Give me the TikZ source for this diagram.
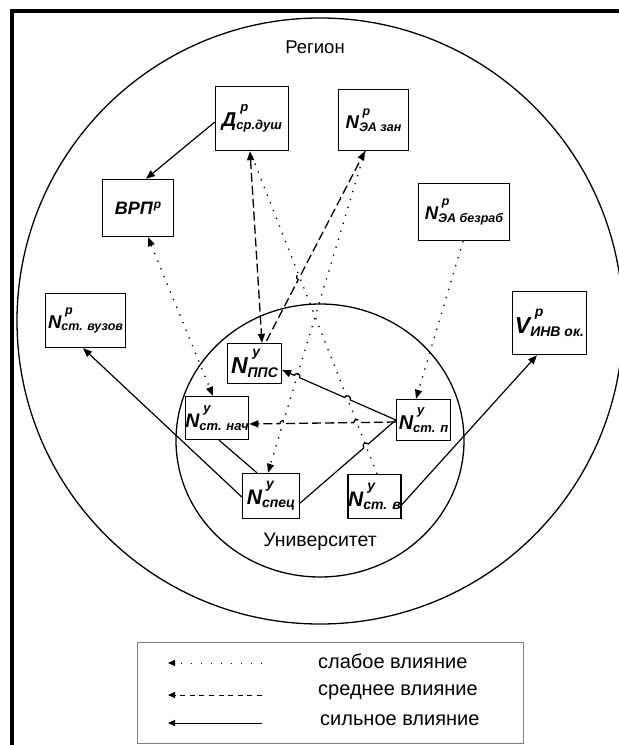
\documentclass[tikz,border=0pt]{standalone}
\usepackage{fontspec}
\setmainfont{Liberation Sans}
\usetikzlibrary{arrows.meta,calc}
\newlength\lblem
\newcommand{\lbl}[5]{%
  \fontsize{#1}{#1}\selectfont\setlength\lblem{1em}%
  #2%
  \fontsize{#5}{#5}\selectfont
  \rlap{\kern0.2\lblem\raisebox{0.74\lblem}{#3}}%
  \raisebox{-0.15\lblem}{#4}}
\begin{document}
\begin{tikzpicture}[x=1pt,y=-1pt,
  box/.style={draw,line width=1.3pt,inner sep=0pt,font=\bfseries\itshape},
  arw/.style={-{Triangle[length=9pt,width=7pt]}},
  arws/.style={{Triangle[length=9pt,width=7pt]}-{Triangle[length=9pt,width=7pt]}},
  strongline/.style={line width=1.2pt},
  medline/.style={line width=1.3pt,dash pattern=on 9pt off 4pt},
  weakline/.style={line width=1.3pt,dash pattern=on 1.3pt off 7pt},
  hop/.style={bend right=90,looseness=1.7},
  hopl/.style={bend left=90,looseness=1.7},
  legtip/.style={-{Triangle[length=7pt,width=6pt]}},
  legtxt/.style={anchor=west,inner sep=0pt,font=\fontsize{20}{20}\selectfont}]
\useasboundingbox (0,0) rectangle (619,745);
% frame
\draw[line width=3.8pt] (12,746) -- (12,10.7) -- (620,10.7);
% circles
\draw[line width=1.3pt] (320,321) circle[radius=303pt];
\draw[line width=1.3pt] (320,440.5) ellipse[x radius=144pt,y radius=136.5pt];
\node[font=\fontsize{18.5}{18.5}\selectfont] (reg) at (315,47) {Регион};
\node[font=\fontsize{19.5}{19.5}\selectfont] (uni) at (320,542) {Университет};
% boxes
\node[box,minimum width=73pt,minimum height=64pt] (d) at (252,118.5) {\lbl{20}{Д}{р}{ср.душ}{13}};
\node[box,minimum width=70pt,minimum height=61pt] (eaz) at (373.5,120) {\lbl{18.5}{N}{р}{ЭА зан}{12.5}};
\node[box,minimum width=71pt,minimum height=57pt] (vrp) at (138,208) {\fontsize{18}{18}\selectfont ВРП\kern1pt\raisebox{0.35em}{\fontsize{12}{12}\selectfont р}};
\node[box,minimum width=91pt,minimum height=57pt] (eab) at (464,212) {\lbl{18.5}{N}{р}{ЭА безраб}{12.5}};
\node[box,minimum width=74pt,minimum height=63pt] (vinv) at (549.5,323) {\lbl{23}{V}{р}{ИНВ ок.}{14}};
\node[box,minimum width=80pt,minimum height=54pt] (vuz) at (85.5,320.5) {\lbl{18.5}{N}{р}{ст. вузов}{12.5}};
\node[box,minimum width=54pt,minimum height=40pt] (pps) at (254.5,363.5) {\lbl{23}{N}{у}{ППС}{14}};
\node[box,minimum width=61pt,minimum height=43pt] (stn) at (217,418) {\lbl{19.5}{N}{у}{ст. нач}{13}};
\node[box,minimum width=54pt,minimum height=41pt] (stp) at (423.5,420) {\lbl{20}{N}{у}{ст. п}{13}};
\node[box,minimum width=57pt,minimum height=45pt] (spec) at (271,496) {\lbl{21}{N}{у}{спец}{14}};
\node[box,minimum width=52pt,minimum height=44pt] (stv) at (374.5,496.5) {\lbl{21}{N}{у}{ст. в}{14}};
% connector end points
\coordinate (d_w) at ([yshift=-3.5pt]d.west);
\coordinate (vrp_n) at ([xshift=8pt]vrp.north);
\coordinate (vrp_s) at ([xshift=10pt]vrp.south);
\coordinate (stn_t) at ([xshift=-4pt]stn.north);
\coordinate (d_b) at ([xshift=-2pt]d.south);
\coordinate (pps_t) at ([xshift=7.5pt]pps.north);
\coordinate (pps_t2) at ([xshift=12pt,yshift=2pt]pps.north);
\coordinate (eaz_b) at ([xshift=-8.5pt]eaz.south);
\coordinate (spec_t) at ([xshift=-3pt]spec.north);
\coordinate (stv_t) at ([xshift=2.5pt]stv.north);
\coordinate (eab_b) at ([xshift=-1pt]eab.south);
\coordinate (stp_t) at ([xshift=-7.5pt]stp.north);
\coordinate (stp_l) at (stp.west);
\coordinate (stp_l2) at ([yshift=-2pt]stp.west);
\coordinate (pps_r) at ([yshift=-6.5pt]pps.east);
\coordinate (stn_r) at ([yshift=-6pt]stn.east);
\coordinate (spec_r) at ([yshift=-7pt]spec.east);
\coordinate (spec_l) at ([yshift=-1pt]spec.west);
\coordinate (vuz_b) at ([xshift=-2.5pt]vuz.south);
\coordinate (stn_b) at ([xshift=2pt]stn.south);
\coordinate (spec_t2) at ([xshift=-14pt]spec.north);
\coordinate (stv_r) at ([yshift=-8.5pt]stv.east);
\coordinate (vinv_b) at ([xshift=-12.5pt]vinv.south);
% hop points
\coordinate (h1) at (intersection of stp_l--pps_r and eaz_b--spec_t);
\coordinate (h2) at (intersection of stp_l--pps_r and d_b--stv_t);
\coordinate (h3) at (intersection of spec_r--stp_l and d_b--stv_t);
\coordinate (h4) at (intersection of pps_t2--eaz_b and d_b--stv_t);
\coordinate (h5) at (intersection of stp_l2--stn_r and eaz_b--spec_t);
\coordinate (h6) at (intersection of stp_l2--stn_r and d_b--stv_t);
% weak
\draw[weakline,arws] (vrp_s) -- (stn_t);
\draw[weakline] (stv_t) -- (d_b);
\draw[weakline,arw] (eaz_b) -- (spec_t);
\draw[weakline,arw] (eab_b) -- (stp_t);
% medium
\draw[medline,arws] (d_b) -- (pps_t);
\draw[medline,arw] (pps_t2) -- ($(h4)!3pt!(pps_t2)$) to[hopl] ($(h4)!3pt!(eaz_b)$) -- (eaz_b);
\draw[medline,arw] (stp_l2) -- ($(h6)!3pt!(stp_l2)$) to[hop] ($(h6)!3pt!(stn_r)$) -- ($(h5)!3pt!(stp_l2)$) to[hop] ($(h5)!3pt!(stn_r)$) -- (stn_r);
% strong
\draw[strongline,arw] (d_w) -- (vrp_n);
\draw[strongline,arw] (stp_l) -- ($(h2)!3pt!(stp_l)$) to[hop] ($(h2)!3pt!(pps_r)$) -- ($(h1)!3pt!(stp_l)$) to[hop] ($(h1)!3pt!(pps_r)$) -- (pps_r);
\draw[strongline] (spec_r) -- ($(h3)!3pt!(spec_r)$) to[hopl] ($(h3)!3pt!(stp_l)$) -- (stp_l);
\draw[strongline,arw] (spec_l) -- (vuz_b);
\draw[strongline] (stn_b) -- (spec_t2);
\draw[strongline,arw] (stv_r) -- (vinv_b);
% legend
\node[draw=gray,line width=0.9pt,minimum width=386pt,minimum height=101pt,inner sep=0pt] (leg) at (330,692.5) {};
\coordinate (l1a) at (262,663); \coordinate (l1b) at (168,663);
\coordinate (l2a) at (262,695); \coordinate (l2b) at (168,695);
\coordinate (l3a) at (262,723); \coordinate (l3b) at (168,723);
\draw[line width=1pt,dash pattern=on 1pt off 9pt,legtip] (l1a) -- (l1b);
\draw[line width=1pt,dash pattern=on 5pt off 4.6pt,legtip] (l2a) -- (l2b);
\draw[line width=1pt,legtip] (l3a) -- (l3b);
\node[legtxt] (t1) at (318,661) {слабое влияние};
\node[legtxt] (t2) at (318,692) {среднее влияние};
\node[legtxt] (t3) at (320,720) {сильное влияние};
\end{tikzpicture}
\end{document}
